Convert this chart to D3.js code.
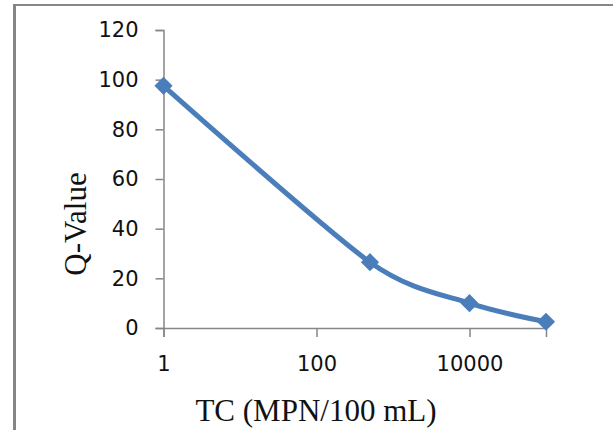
<!DOCTYPE html>
<html>
<head>
<meta charset="utf-8">
<script src="https://cdn.jsdelivr.net/npm/d3@7"></script>
<style>
  body { margin: 0; background: #fff; }
  #chart { width: 613px; height: 430px; }
</style>
</head>
<body>
<div id="chart"></div>
<script>
// data
const tcValues = [1, 500, 10000, 100000];
const qValues = [97.5, 26.5, 10, 2.5];
const xTicks = [1, 100, 10000];
const yTicks = [0, 20, 40, 60, 80, 100, 120];

class QChart {
  constructor(parentElement) {
    this.parentElement = parentElement;
    this.data = tcValues.map((d, i) => ({ tc: d, q: qValues[i] }));
    this.axisColor = '#868686';
    this.lineColor = '#4A7EBB';
    this.initVis();
  }

  initVis() {
    let vis = this;

    vis.width = 613;
    vis.height = 430;

    vis.svg = d3.select('#' + vis.parentElement).append('svg')
      .attr('width', vis.width)
      .attr('height', vis.height);

    // outer frame (only top + left edges show)
    vis.svg.append('line')
      .attr('x1', 14.5).attr('x2', 14.5)
      .attr('y1', 4).attr('y2', vis.height)
      .attr('stroke', vis.axisColor).attr('stroke-width', 3);
    vis.svg.append('line')
      .attr('x1', 13).attr('x2', vis.width)
      .attr('y1', 5).attr('y2', 5)
      .attr('stroke', vis.axisColor).attr('stroke-width', 2);

    vis.x = d3.scaleLog().domain([1, 100000]).range([163.5, 546]);
    vis.y = d3.scaleLinear().domain([0, 120]).range([328, 30]);

    vis.updateChart();
  }

  updateChart() {
    let vis = this;

    // y axis
    let yAxis = vis.svg.append('g')
      .attr('transform', `translate(${vis.x(1)},0)`)
      .call(d3.axisLeft(vis.y).tickValues(yTicks).tickSize(8).tickPadding(17));

    // x axis
    let xAxis = vis.svg.append('g')
      .attr('transform', `translate(0,${vis.y(0)})`)
      .call(d3.axisBottom(vis.x).tickValues(xTicks).tickFormat(d3.format('d')).tickSize(9).tickPadding(27));

    [xAxis, yAxis].forEach(ax => {
      ax.select('.domain').attr('stroke', vis.axisColor).attr('stroke-width', 1.5);
      ax.selectAll('.tick line').attr('stroke', vis.axisColor).attr('stroke-width', 1.5);
      ax.selectAll('.tick text')
        .attr('fill', '#111')
        .style('font-family', '"DejaVu Sans", sans-serif')
        .style('font-size', '21px');
    });
    xAxis.selectAll('.tick text').attr('dy', '0.35em');

    // smoothed line (gentle, like the spreadsheet smoothing)
    let line = d3.line()
      .x(d => vis.x(d.tc))
      .y(d => vis.y(d.q))
      .curve(d3.curveCardinal.tension(0.2));

    vis.svg.append('path')
      .datum(vis.data)
      .attr('d', line)
      .attr('fill', 'none')
      .attr('stroke', vis.lineColor)
      .attr('stroke-width', 5)
      .attr('stroke-linejoin', 'round');

    // diamond markers
    vis.svg.selectAll('.marker')
      .data(vis.data)
      .enter().append('path')
      .attr('class', 'marker')
      .attr('d', d3.symbol(d3.symbolSquare, 165))
      .attr('transform', d => `translate(${vis.x(d.tc)},${vis.y(d.q)}) rotate(45)`)
      .attr('fill', vis.lineColor);

    // axis titles
    vis.svg.append('text')
      .attr('x', 316)
      .attr('y', 421)
      .attr('text-anchor', 'middle')
      .style('font-family', '"Liberation Serif", "Times New Roman", serif')
      .style('font-size', '31px')
      .attr('fill', '#111')
      .text('TC (MPN/100 mL)');

    vis.svg.append('text')
      .attr('transform', 'translate(86,224) rotate(-90)')
      .attr('text-anchor', 'middle')
      .style('font-family', '"Liberation Serif", "Times New Roman", serif')
      .style('font-size', '31px')
      .attr('fill', '#111')
      .text('Q-Value');
  }
}

new QChart('chart');
</script>
</body>
</html>
